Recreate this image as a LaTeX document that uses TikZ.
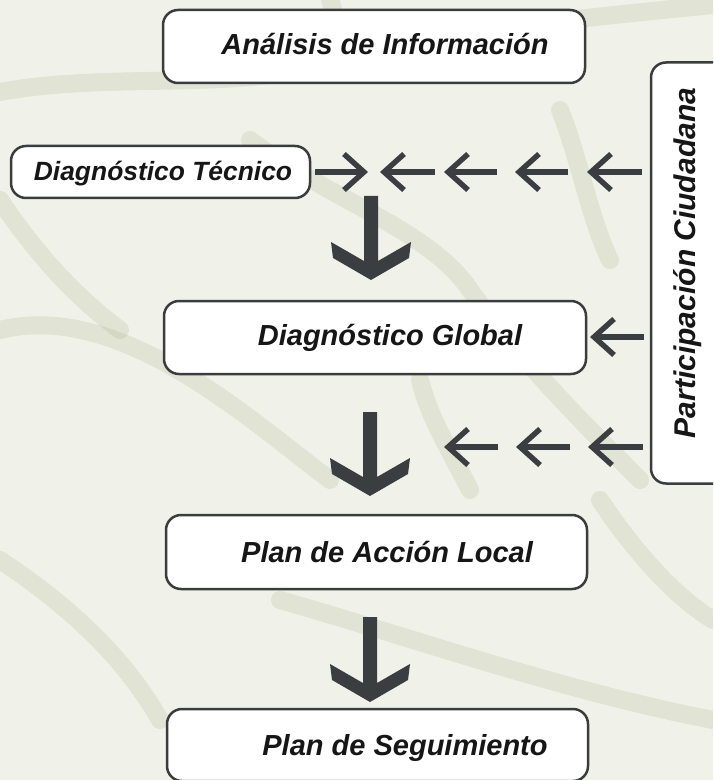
\documentclass[tikz,border=0pt]{standalone}
\usepackage{fontspec}
\setmainfont{Liberation Sans}
\usetikzlibrary{arrows.meta}
\definecolor{arrowgray}{RGB}{59,62,64}
\definecolor{boxline}{RGB}{58,60,62}
\definecolor{txtdark}{RGB}{22,22,22}
\definecolor{bgpale}{RGB}{240,241,233}
\definecolor{vein}{RGB}{150,155,105}
\tikzset{
  boxnode/.style={draw=boxline, line width=1.25pt, fill=white, rounded corners=7.5pt, inner sep=0pt},
  lbl/.style={font=\fontsize{14.5}{16}\selectfont\bfseries\itshape, text=txtdark, inner sep=0pt, anchor=base},
  smallarrow/.style={draw=arrowgray, line width=2.7pt, -{Straight Barb[length=10pt, width=18pt, sharp]}},
  bigarrow/.style={fill=arrowgray},
  veinline/.style={draw=vein, line width=9pt, opacity=0.16, line cap=round}
}
\begin{document}
\begin{tikzpicture}[x=0.5pt, y=-0.5pt]
\useasboundingbox (0,0) rectangle (713,780);
\clip (0,0) rectangle (713,780);
% background (leaf texture approximated)
\fill[bgpale] (0,0) rectangle (713,780);
\draw[veinline] (0,92) .. controls (120,70) and (250,95) .. (360,55) .. controls (420,35) and (560,20) .. (713,5);
\draw[veinline] (330,0) .. controls (340,30) and (345,50) .. (350,75);
\draw[veinline] (560,110) .. controls (580,160) and (590,220) .. (610,260);
\draw[veinline] (250,140) .. controls (330,200) and (430,230) .. (470,290) .. controls (520,360) and (580,420) .. (640,480);
\draw[veinline] (0,330) .. controls (120,300) and (250,420) .. (330,480);
\draw[veinline] (420,380) .. controls (430,420) and (450,450) .. (470,490);
\draw[veinline] (280,600) .. controls (420,640) and (560,690) .. (713,720);
\draw[veinline] (0,560) .. controls (60,600) and (120,650) .. (160,720);
\draw[veinline] (600,500) .. controls (640,560) and (680,600) .. (713,620);
\draw[veinline] (0,200) .. controls (40,260) and (80,300) .. (120,330);

% boxes
\node[boxnode, minimum width=211pt, minimum height=36.5pt] (analisis) at (374,46.5) {};
\node[lbl] (tanalisis) at (385,55) {Análisis de Información};

\node[boxnode, minimum width=149.5pt, minimum height=26pt] (tecnico) at (160.5,172) {};
\node[lbl, font=\fontsize{13.2}{15}\selectfont\bfseries\itshape] (ttecnico) at (163,181) {Diagnóstico Técnico};

\node[boxnode, minimum width=211pt, minimum height=36.5pt] (global) at (375,337.5) {};
\node[lbl] (tglobal) at (390,345) {Diagnóstico Global};

\node[boxnode, minimum width=210.5pt, minimum height=37pt] (accion) at (376.5,552) {};
\node[lbl] (taccion) at (387,562) {Plan de Acción Local};

\node[boxnode, minimum width=210.5pt, minimum height=36pt] (seguimiento) at (377.5,745) {};
\node[lbl] (tseguimiento) at (405,755) {Plan de Seguimiento};

\node[boxnode, minimum width=45pt, minimum height=210.5pt] (participacion) at (696,273) {};
\node[lbl, font=\fontsize{15}{17}\selectfont\bfseries\itshape, rotate=90] (tparticipacion) at (695,263) {Participación Ciudadana};

% small arrows, row 1
\coordinate (r1a) at (368,172);
\draw[smallarrow] (tecnico.east) ++(4,0) coordinate (r1s) (r1s) -- (r1a);
\coordinate (r1b1) at (435,172); \coordinate (r1b2) at (380,172);
\coordinate (r1c1) at (497,172); \coordinate (r1c2) at (444,172);
\coordinate (r1d1) at (568,172); \coordinate (r1d2) at (515,172);
\coordinate (r1e1) at (642,172); \coordinate (r1e2) at (587,172);
\draw[smallarrow] (r1b1) -- (r1b2);
\draw[smallarrow] (r1c1) -- (r1c2);
\draw[smallarrow] (r1d1) -- (r1d2);
\draw[smallarrow] (r1e1) -- (r1e2);

% arrow to Diagnostico Global
\coordinate (g1) at (644,337); \coordinate (g2) at (590,337);
\draw[smallarrow] (g1) -- (g2);

% small arrows, row 3
\coordinate (r3a1) at (498,447); \coordinate (r3a2) at (444,447);
\coordinate (r3b1) at (570,447); \coordinate (r3b2) at (516,447);
\coordinate (r3c1) at (643,447); \coordinate (r3c2) at (588,447);
\draw[smallarrow] (r3a1) -- (r3a2);
\draw[smallarrow] (r3b1) -- (r3b2);
\draw[smallarrow] (r3c1) -- (r3c2);

% big down arrows
\fill[bigarrow, shift={(371,280)}] (0,0) -- (-38,-22) -- (-40,-38) -- (-7,-19) -- (-7,-84) -- (7,-84) -- (7,-19) -- (40,-38) -- (38,-22) -- cycle;
\fill[bigarrow, shift={(370,496)}] (0,0) -- (-38,-22) -- (-40,-38) -- (-7,-19) -- (-7,-84) -- (7,-84) -- (7,-19) -- (40,-38) -- (38,-22) -- cycle;
\fill[bigarrow, shift={(370,702)}] (0,0) -- (-38,-22) -- (-40,-38) -- (-7,-19) -- (-7,-85) -- (7,-85) -- (7,-19) -- (40,-38) -- (38,-22) -- cycle;
\end{tikzpicture}
\end{document}
